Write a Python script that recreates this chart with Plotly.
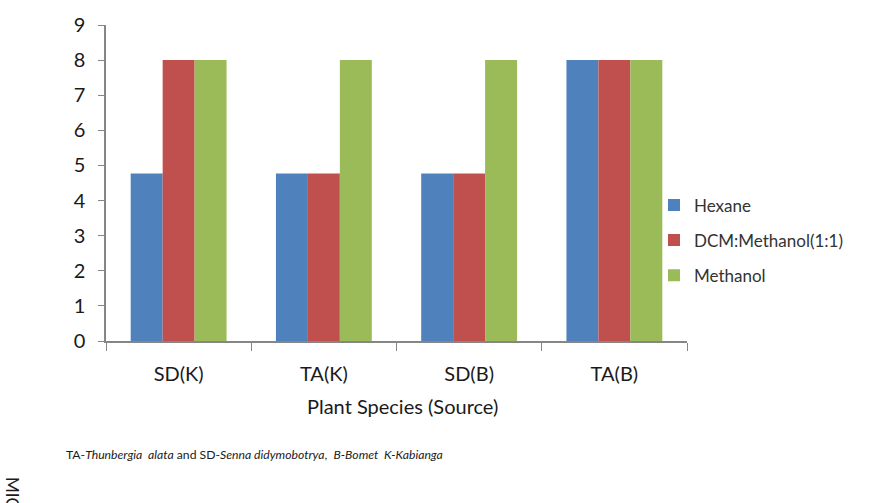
import plotly.graph_objects as go

# Plant extracts and the three solvent systems
categories = ["SD(K)", "TA(K)", "SD(B)", "TA(B)"]
hexane = [4.77, 4.77, 4.77, 8]
dcm_methanol = [8, 4.77, 4.77, 8]
methanol = [8, 8, 8, 8]

series_names = ["Hexane", "DCM:Methanol(1:1)", "Methanol"]
series_values = [hexane, dcm_methanol, methanol]
series_colors = ["#4F81BD", "#C0504D", "#9BBB59"]

y_ticks = list(range(0, 10))

FONT = "Lato, Carlito, 'Open Sans', sans-serif"
W, H = 883, 503
L, R, T, B = 106, 196, 20, 162
PW, PH = W - L - R, H - T - B


def px_x(px):
    return (px - L) / PW


def px_y(py):
    return (H - B - py) / PH


fig = go.Figure()
for name, vals, col in zip(series_names, series_values, series_colors):
    fig.add_trace(go.Bar(
        x=categories, y=vals, name=name, legendgroup=name,
        marker=dict(color=col, line=dict(width=0)),
    ))

fig.update_layout(
    width=W, height=H,
    margin=dict(l=L, r=R, t=T, b=B, pad=0),
    paper_bgcolor="white", plot_bgcolor="white",
    barmode="group", bargap=0.34, bargroupgap=0,
    font=dict(family=FONT, color="#1a1a1a"),
    showlegend=True,
    legend=dict(
        x=px_x(654), y=px_y(185), xanchor="left", yanchor="top",
        font=dict(size=17, color="#333333", family=FONT),
        tracegroupgap=10, itemwidth=30, bgcolor="rgba(0,0,0,0)",
    ),
    xaxis=dict(
        type="category", tickson="boundaries", ticks="outside", ticklen=8,
        tickcolor="#868686", showline=True, linecolor="#868686", linewidth=1.5,
        tickfont=dict(size=20, color="#1a1a1a"), showgrid=False,
        ticklabelstandoff=14,
    ),
    yaxis=dict(
        range=[0, 9], tickvals=y_ticks, ticks="outside", ticklen=6,
        tickcolor="#868686", showline=True, linecolor="#868686", linewidth=1.5,
        tickfont=dict(size=20, color="#1a1a1a"), showgrid=False, zeroline=False,
        ticklabelstandoff=9,
    ),
)

fig.add_annotation(
    text="Plant Species (Source)", xref="paper", yref="paper",
    x=px_x(402), y=px_y(407), xanchor="center", yanchor="middle",
    showarrow=False, font=dict(size=20, color="#1a1a1a", family=FONT),
)

fig.add_annotation(
    text="TA-<i>Thunbergia  alata</i> and SD-<i>Senna didymobotrya</i>,  <i>B-Bomet  K-Kabianga</i>",
    xref="paper", yref="paper", x=px_x(64), y=px_y(456),
    xanchor="left", yanchor="middle", showarrow=False,
    font=dict(size=12.2, color="#1a1a1a", family=FONT),
)

fig.add_annotation(
    text="MIC", xref="paper", yref="paper", x=px_x(12), y=px_y(477),
    xanchor="center", yanchor="top", textangle=90, showarrow=False,
    font=dict(size=17, color="#1a1a1a", family=FONT),
)

fig.write_html("out.html")
